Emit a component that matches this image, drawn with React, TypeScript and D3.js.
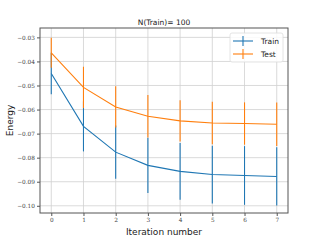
import React, { useEffect, useRef } from "react";
import * as d3 from "d3";

const iterations = [0, 1, 2, 3, 4, 5, 6, 7];
const trainMean = [-0.045, -0.067, -0.0777, -0.0832, -0.0857, -0.087, -0.0874, -0.0878];
const trainErr = [0.0086, 0.0104, 0.0111, 0.0115, 0.0118, 0.012, 0.0122, 0.0121];
const testMean = [-0.0364, -0.0508, -0.0589, -0.0628, -0.0647, -0.0656, -0.0658, -0.0661];
const testErr = [0.0062, 0.0086, 0.0086, 0.0088, 0.0086, 0.0088, 0.0088, 0.009];
const yTicks = [-0.03, -0.04, -0.05, -0.06, -0.07, -0.08, -0.09, -0.1];
const seriesNames = ["Train", "Test"];
const colors = ["#1f77b4", "#ff7f0e"];

const W = 320;
const H = 240;
const margin = { left: 40, right: 32, top: 28, bottom: 27 };

const App = () => {
  const svgRef = useRef<SVGSVGElement>(null);

  useEffect(() => {
    const svg = d3.select(svgRef.current);
    svg.selectAll("*").remove();

    const x = d3.scaleLinear().domain([-0.35, 7.35]).range([margin.left, W - margin.right]);
    const y = d3.scaleLinear().domain([-0.103, -0.0261]).range([H - margin.bottom, margin.top]);

    // grid
    svg
      .append("g")
      .selectAll("line")
      .data(iterations)
      .join("line")
      .attr("x1", (d) => x(d))
      .attr("x2", (d) => x(d))
      .attr("y1", margin.top)
      .attr("y2", H - margin.bottom)
      .attr("stroke", "#d0d0d0")
      .attr("stroke-width", 0.8);
    svg
      .append("g")
      .selectAll("line")
      .data(yTicks)
      .join("line")
      .attr("x1", margin.left)
      .attr("x2", W - margin.right)
      .attr("y1", (d) => y(d))
      .attr("y2", (d) => y(d))
      .attr("stroke", "#d0d0d0")
      .attr("stroke-width", 0.8);

    const series = [
      { mean: trainMean, err: trainErr },
      { mean: testMean, err: testErr },
    ];

    const line = d3
      .line<number>()
      .x((d, i) => x(iterations[i]))
      .y((d) => y(d));

    series.forEach((s, k) => {
      const g = svg.append("g");
      g.selectAll("line")
        .data(s.mean)
        .join("line")
        .attr("x1", (d, i) => x(iterations[i]))
        .attr("x2", (d, i) => x(iterations[i]))
        .attr("y1", (d, i) => y(d - s.err[i]))
        .attr("y2", (d, i) => y(d + s.err[i]))
        .attr("stroke", colors[k])
        .attr("stroke-width", 1.1);
      g.append("path")
        .attr("d", line(s.mean))
        .attr("fill", "none")
        .attr("stroke", colors[k])
        .attr("stroke-width", 1.1);
    });

    // spines
    svg
      .append("rect")
      .attr("x", margin.left)
      .attr("y", margin.top)
      .attr("width", W - margin.left - margin.right)
      .attr("height", H - margin.top - margin.bottom)
      .attr("fill", "none")
      .attr("stroke", "#555")
      .attr("stroke-width", 1);

    const tickFont = "DejaVu Serif";
    const yAxis = d3
      .axisLeft(y)
      .tickValues(yTicks)
      .tickSize(3)
      .tickFormat((d) => "\u2212" + d3.format(".2f")(-(d as number)));
    const gy = svg.append("g").attr("transform", `translate(${margin.left},0)`).call(yAxis);
    gy.select(".domain").remove();
    gy.selectAll("line").attr("stroke", "#555");
    gy.selectAll("text")
      .attr("font-family", tickFont)
      .attr("font-size", 5.8)
      .attr("fill", "#444")
      .attr("x", -5);

    const xAxis = d3.axisBottom(x).tickValues(iterations).tickSize(3).tickFormat(d3.format("d"));
    const gx = svg.append("g").attr("transform", `translate(0,${H - margin.bottom})`).call(xAxis);
    gx.select(".domain").remove();
    gx.selectAll("line").attr("stroke", "#555");
    gx.selectAll("text")
      .attr("font-family", tickFont)
      .attr("font-size", 5.8)
      .attr("fill", "#444")
      .attr("y", 5);

    svg
      .append("text")
      .attr("x", (margin.left + W - margin.right) / 2)
      .attr("y", 25)
      .attr("text-anchor", "middle")
      .attr("font-family", "DejaVu Sans")
      .attr("font-size", 7.5)
      .attr("fill", "#222")
      .text("N(Train)= 100");

    svg
      .append("text")
      .attr("x", (margin.left + W - margin.right) / 2)
      .attr("y", 235)
      .attr("text-anchor", "middle")
      .attr("font-family", "DejaVu Sans")
      .attr("font-size", 9)
      .attr("fill", "#222")
      .text("Iteration number");

    svg
      .append("text")
      .attr("transform", `translate(13,${(margin.top + H - margin.bottom) / 2}) rotate(-90)`)
      .attr("text-anchor", "middle")
      .attr("font-family", "DejaVu Sans")
      .attr("font-size", 9)
      .attr("fill", "#222")
      .text("Energy");

    // legend
    const lg = svg.append("g").attr("transform", "translate(230,33)");
    lg.append("rect")
      .attr("width", 53)
      .attr("height", 29)
      .attr("rx", 2)
      .attr("fill", "white")
      .attr("fill-opacity", 0.85)
      .attr("stroke", "#ddd")
      .attr("stroke-width", 0.8);
    seriesNames.forEach((name, k) => {
      const cy = 8 + k * 13;
      lg.append("line")
        .attr("x1", 3)
        .attr("x2", 23)
        .attr("y1", cy)
        .attr("y2", cy)
        .attr("stroke", colors[k])
        .attr("stroke-width", 1.1);
      lg.append("line")
        .attr("x1", 13)
        .attr("x2", 13)
        .attr("y1", cy - 5)
        .attr("y2", cy + 5)
        .attr("stroke", colors[k])
        .attr("stroke-width", 1.1);
      lg.append("text")
        .attr("x", 31)
        .attr("y", cy + 3)
        .attr("font-family", "DejaVu Sans")
        .attr("font-size", 7.5)
        .attr("fill", "#222")
        .text(name);
    });
  }, []);

  return (
    <svg
      ref={svgRef}
      width={W}
      height={H}
      style={{ display: "block", position: "absolute", left: 0, top: 0, background: "white" }}
    />
  );
};

export default App;
